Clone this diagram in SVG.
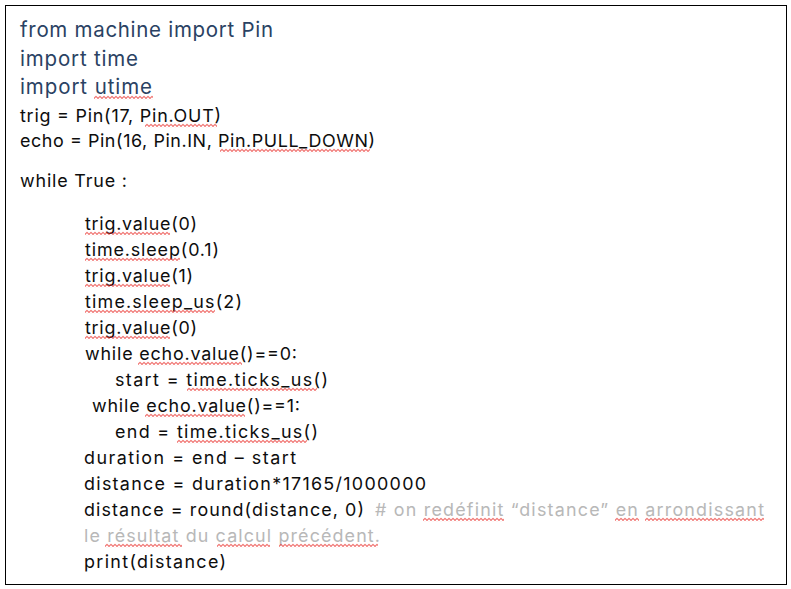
<svg xmlns="http://www.w3.org/2000/svg" width="791" height="589" viewBox="0 0 791 589">
<style>
.h{font-family:Inter,"Liberation Sans",sans-serif;font-size:20.5px;fill:#2a4263}
.t{font-family:Inter,"Liberation Sans",sans-serif;font-size:17.9px;fill:#0d0d0d}
.c{fill:#b8b8b8}
.sq{fill:url(#wave)}
</style>
<defs>
<pattern id="wave" patternUnits="userSpaceOnUse" width="4" height="4">
<path d="M-2,0.8 L0,3 L2,0.8 L4,3 L6,0.8" fill="none" stroke="#e8231f" stroke-width="1"/>
</pattern>
</defs>
<rect x="0" y="0" width="791" height="589" fill="#fff"/>
<rect x="5.5" y="5.5" width="781" height="579" fill="none" stroke="#000" stroke-width="1"/>
<g id="code">
<text class="h" x="20" y="37" textLength="253" lengthAdjust="spacing">from machine import Pin</text>
<text class="h" x="20" y="66" textLength="118" lengthAdjust="spacing">import time</text>
<text class="h" x="20" y="94" textLength="132" lengthAdjust="spacing">import utime</text>
<text class="t" x="20" y="122" textLength="201" lengthAdjust="spacing">trig = Pin(17, Pin.OUT)</text>
<text class="t" x="20" y="147" textLength="355" lengthAdjust="spacing">echo = Pin(16, Pin.IN, Pin.PULL_DOWN)</text>
<text class="t" x="20" y="187" textLength="107" lengthAdjust="spacing">while True :</text>
<text class="t" x="85" y="230" textLength="112" lengthAdjust="spacing">trig.value(0)</text>
<text class="t" x="85" y="256" textLength="134" lengthAdjust="spacing">time.sleep(0.1)</text>
<text class="t" x="85" y="282" textLength="108" lengthAdjust="spacing">trig.value(1)</text>
<text class="t" x="85" y="308" textLength="157" lengthAdjust="spacing">time.sleep_us(2)</text>
<text class="t" x="85" y="334" textLength="112" lengthAdjust="spacing">trig.value(0)</text>
<text class="t" x="85" y="360" textLength="212" lengthAdjust="spacing">while echo.value()==0:</text>
<text class="t" x="115" y="386" textLength="213" lengthAdjust="spacing">start = time.ticks_us()</text>
<text class="t" x="92" y="412" textLength="208" lengthAdjust="spacing">while echo.value()==1:</text>
<text class="t" x="115" y="438" textLength="203" lengthAdjust="spacing">end = time.ticks_us()</text>
<text class="t" x="84" y="464" textLength="212" lengthAdjust="spacing">duration = end – start</text>
<text class="t" x="84" y="490" textLength="342" lengthAdjust="spacing">distance = duration*17165/1000000</text>
<text class="t" x="84" y="516" textLength="280" lengthAdjust="spacing">distance = round(distance, 0)</text>
<text class="t c" x="375" y="516" textLength="389" lengthAdjust="spacing"># on redéfinit “distance” en arrondissant</text>
<text class="t c" x="84" y="542" textLength="296" lengthAdjust="spacing">le résultat du calcul précédent.</text>
<text class="t" x="84" y="568" textLength="142" lengthAdjust="spacing">print(distance)</text>
</g>
<g id="squiggles">
<rect class="sq" transform="translate(94,95.5)" width="59" height="4"/>
<rect class="sq" transform="translate(145,123.5)" width="72" height="4"/>
<rect class="sq" transform="translate(220,148.5)" width="150" height="4"/>
<rect class="sq" transform="translate(85,231.5)" width="85" height="4"/>
<rect class="sq" transform="translate(85,257.5)" width="95" height="4"/>
<rect class="sq" transform="translate(85,283.5)" width="85" height="4"/>
<rect class="sq" transform="translate(85,309.5)" width="130" height="4"/>
<rect class="sq" transform="translate(85,335.5)" width="85" height="4"/>
<rect class="sq" transform="translate(138,361.5)" width="104" height="4"/>
<rect class="sq" transform="translate(187,387.5)" width="130" height="4"/>
<rect class="sq" transform="translate(145,413.5)" width="100" height="4"/>
<rect class="sq" transform="translate(177,439.5)" width="130" height="4"/>
<rect class="sq" transform="translate(423,517.5)" width="81" height="4"/>
<rect class="sq" transform="translate(615,517.5)" width="24" height="4"/>
<rect class="sq" transform="translate(645,517.5)" width="119" height="4"/>
<rect class="sq" transform="translate(105,543.5)" width="77" height="4"/>
<rect class="sq" transform="translate(217,543.5)" width="53" height="4"/>
<rect class="sq" transform="translate(279,543.5)" width="99" height="4"/>
</g>
</svg>
